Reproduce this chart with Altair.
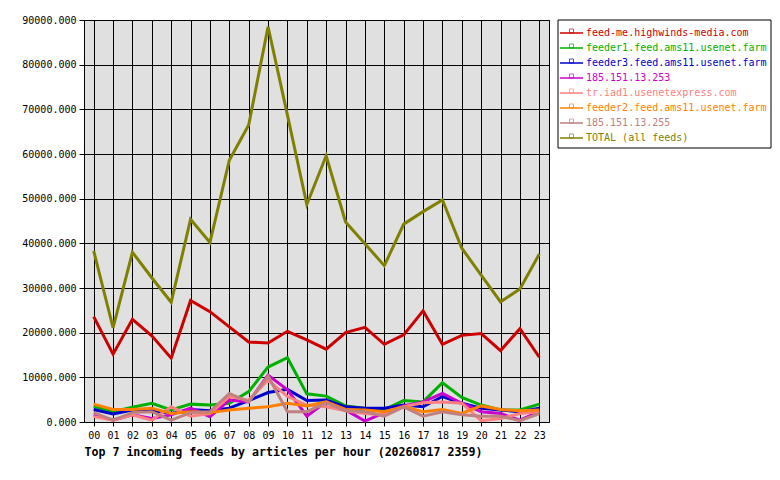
import altair as alt
import pandas as pd

hours = [f"{h:02d}" for h in range(24)]

series = [
    "feed-me.highwinds-media.com",
    "feeder1.feed.ams11.usenet.farm",
    "feeder3.feed.ams11.usenet.farm",
    "185.151.13.253",
    "tr.iad1.usenetexpress.com",
    "feeder2.feed.ams11.usenet.farm",
    "185.151.13.255",
    "TOTAL (all feeds)",
]
colors = ["#cc0000", "#00b000", "#0000cc", "#cc00cc", "#ff8080", "#ff8000", "#c08080", "#808000"]

feed_me = [23600, 15200, 23000, 19300, 14300, 27200, 24700, 21300, 17900, 17700, 20300, 18400,
           16300, 20000, 21200, 17400, 19500, 24900, 17400, 19400, 19800, 16000, 20900, 14500]
feeder1 = [3500, 2300, 3300, 4200, 2700, 4000, 3800, 4200, 6800, 12300, 14400, 6300,
           5800, 3600, 3100, 2800, 4800, 4500, 8800, 5500, 3800, 2700, 2700, 4000]
feeder3 = [2800, 1800, 2700, 2500, 1900, 2800, 2500, 3100, 4800, 6600, 7300, 4800,
           4900, 3400, 3100, 3100, 3800, 3400, 5700, 4200, 3100, 2700, 2300, 3100]
ip253 = [1600, 400, 1600, 800, 1600, 3100, 1200, 4900, 4500, 10500, 7200, 1300,
         4500, 2700, 200, 2100, 3600, 4500, 6400, 4200, 2300, 1900, 400, 2300]
iad1 = [1200, 400, 1600, 400, 3400, 1300, 1900, 5700, 4900, 9400, 5700, 3800,
        3400, 2500, 1900, 1600, 3400, 4300, 4500, 4200, 300, 800, 1900, 2300]
feeder2 = [4000, 2800, 2800, 3100, 1900, 2300, 2100, 2700, 3100, 3400, 4200, 3600,
           4500, 2800, 2700, 2300, 3400, 2300, 2800, 1900, 3600, 2800, 2500, 2700]
ip255 = [2100, 400, 2100, 2300, 400, 2100, 2300, 6400, 4500, 10300, 2300, 2300,
         4300, 2500, 2300, 1300, 3400, 1300, 2300, 1600, 1300, 1300, 300, 1900]
total = [38300, 21100, 38000, 32300, 26800, 45400, 40200, 58600, 66500, 88500, 68700, 48700,
         59600, 44800, 39900, 35000, 44300, 47100, 49700, 38900, 32900, 26900, 29800, 37600]

values = [feed_me, feeder1, feeder3, ip253, iad1, feeder2, ip255, total]
rows = []
for order, (name, vals) in enumerate(zip(series, values)):
    for h, v in zip(hours, vals):
        rows.append({"hour": h, "feed": name, "articles": v, "order": order})
df = pd.DataFrame(rows)
legend_df = pd.DataFrame({"feed": series})

font = "DejaVu Sans Mono"
color = alt.Color("feed:N", scale=alt.Scale(domain=series, range=colors), legend=None)
legend_y = alt.Y("feed:N", sort=series, axis=None,
                 scale=alt.Scale(type="point", domain=series, range=[13, 118], padding=0))

lines = alt.Chart(df).mark_line(strokeWidth=3, interpolate="linear").encode(
    x=alt.X("hour:O", sort=hours, scale=alt.Scale(paddingOuter=0.5, paddingInner=0),
            axis=alt.Axis(title="Top 7 incoming feeds by articles per hour (20260817 2359)",
                          titleAnchor="start", titleAlign="left", titleFont=font,
                          titleFontSize=11.6, titleFontWeight="bold", titleColor="black",
                          titlePadding=6, labelAngle=0, labelFont=font, labelFontSize=10,
                          labelColor="black", labelPadding=4, tickSize=4, tickColor="black",
                          domain=False, grid=True, gridColor="black", gridOpacity=1)),
    y=alt.Y("articles:Q", scale=alt.Scale(domain=[0, 90000], nice=False),
            axis=alt.Axis(title=None, values=list(range(0, 90001, 10000)), format=".3f",
                          labelFont=font, labelFontSize=10, labelColor="black",
                          labelPadding=3, tickSize=5, tickColor="black", domain=False,
                          grid=True, gridColor="black", gridOpacity=1, minExtent=76)),
    color=color,
    order=alt.Order("order:Q"),
    detail="order:Q",
)

# legend drawn by hand to the right of the plot
box = alt.Chart(legend_df.head(1)).mark_rect(fill="white", stroke="black", strokeWidth=1).encode(
    x=alt.value(474), x2=alt.value(687), y=alt.value(0), y2=alt.value(128)
)
swatch = alt.Chart(legend_df).mark_rule(strokeWidth=1.5).encode(
    x=alt.value(476), x2=alt.value(499), y=legend_y, color=color
)
marker = alt.Chart(legend_df).mark_point(shape="square", filled=False, size=16,
                                         strokeWidth=1, yOffset=-2).encode(
    x=alt.value(487.5), y=legend_y, color=color
)
labels = alt.Chart(legend_df).mark_text(align="left", baseline="middle", font=font,
                                        fontSize=10).encode(
    x=alt.value(502), y=legend_y, text="feed:N", color=color
)

chart = alt.layer(lines, box, swatch, marker, labels).resolve_scale(
    y="independent"
).properties(
    width=465, height=402,
    padding={"left": 0, "top": 7, "right": 0, "bottom": 5},
).configure_view(
    fill="#e0e0e0", stroke="black", strokeWidth=1
)

chart.save("out.html", embed_options={"renderer": "svg", "actions": False})
